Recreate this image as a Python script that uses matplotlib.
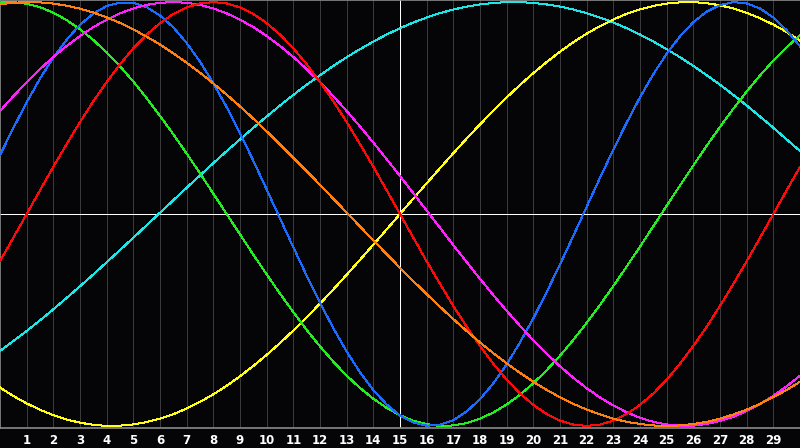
import numpy as np
import matplotlib
matplotlib.use('Agg')
import matplotlib.pyplot as plt

# sample positions (every half step) and tick labels
x = np.arange(0, 30.01, 0.5)
tick_pos = list(range(1, 30))
tick_labels = [str(t) for t in tick_pos]

# curve values
yellow = [-0.819,-0.859,-0.894,-0.924,-0.949,-0.970,-0.985,-0.995,-1.000,-0.999,-0.993,-0.982,-0.966,-0.945,-0.918,-0.887,-0.851,-0.811,-0.766,-0.717,-0.665,-0.609,-0.550,-0.487,-0.423,-0.356,-0.287,-0.216,-0.145,-0.073,0.000,0.073,0.145,0.216,0.287,0.356,0.423,0.487,0.550,0.609,0.665,0.717,0.766,0.811,0.851,0.887,0.918,0.945,0.966,0.982,0.993,0.999,1.000,0.995,0.985,0.970,0.949,0.924,0.894,0.859,0.819]
cyan = [-0.646,-0.600,-0.552,-0.502,-0.450,-0.396,-0.341,-0.285,-0.228,-0.170,-0.112,-0.053,0.006,0.065,0.124,0.182,0.240,0.297,0.352,0.407,0.460,0.512,0.562,0.610,0.655,0.699,0.740,0.778,0.814,0.847,0.877,0.904,0.927,0.948,0.965,0.979,0.989,0.996,1.000,1.000,0.996,0.989,0.979,0.965,0.948,0.927,0.904,0.877,0.847,0.814,0.778,0.740,0.699,0.655,0.610,0.562,0.512,0.460,0.407,0.352,0.297]
green = [0.998,1.000,0.992,0.976,0.950,0.915,0.872,0.821,0.763,0.697,0.625,0.547,0.463,0.376,0.285,0.192,0.096,0.000,-0.096,-0.192,-0.285,-0.376,-0.463,-0.547,-0.625,-0.697,-0.763,-0.821,-0.872,-0.915,-0.950,-0.976,-0.992,-1.000,-0.998,-0.987,-0.966,-0.937,-0.899,-0.853,-0.799,-0.737,-0.669,-0.594,-0.514,-0.429,-0.340,-0.248,-0.154,-0.058,0.039,0.135,0.229,0.322,0.411,0.497,0.578,0.654,0.724,0.787,0.843]
blue = [0.278,0.406,0.527,0.639,0.738,0.823,0.893,0.946,0.982,0.998,0.997,0.976,0.937,0.881,0.807,0.719,0.617,0.504,0.381,0.251,0.116,-0.021,-0.157,-0.291,-0.419,-0.539,-0.649,-0.747,-0.831,-0.899,-0.951,-0.984,-0.999,-0.995,-0.973,-0.932,-0.874,-0.799,-0.710,-0.606,-0.492,-0.368,-0.238,-0.103,0.034,0.171,0.304,0.431,0.551,0.660,0.756,0.839,0.905,0.955,0.986,1.000,0.994,0.970,0.927,0.867,0.791]
magenta = [0.486,0.556,0.622,0.684,0.741,0.793,0.840,0.882,0.917,0.947,0.970,0.987,0.997,1.000,0.997,0.987,0.970,0.947,0.917,0.882,0.840,0.793,0.741,0.684,0.622,0.556,0.486,0.413,0.337,0.259,0.179,0.098,0.016,-0.065,-0.147,-0.227,-0.306,-0.383,-0.457,-0.528,-0.596,-0.659,-0.719,-0.773,-0.822,-0.866,-0.904,-0.936,-0.962,-0.981,-0.993,-0.999,-0.999,-0.991,-0.977,-0.957,-0.930,-0.897,-0.858,-0.813,-0.763]
red = [-0.223,-0.112,0.000,0.112,0.223,0.330,0.434,0.532,0.623,0.707,0.782,0.847,0.901,0.944,0.975,0.994,1.000,0.994,0.975,0.944,0.901,0.847,0.782,0.707,0.623,0.532,0.434,0.330,0.223,0.112,0.000,-0.112,-0.223,-0.330,-0.434,-0.532,-0.623,-0.707,-0.782,-0.847,-0.901,-0.944,-0.975,-0.994,-1.000,-0.994,-0.975,-0.944,-0.901,-0.847,-0.782,-0.707,-0.623,-0.532,-0.434,-0.330,-0.223,-0.112,0.000,0.112,0.223]
orange = [0.990,0.997,1.000,0.999,0.993,0.983,0.969,0.951,0.928,0.902,0.871,0.837,0.800,0.758,0.714,0.667,0.616,0.563,0.508,0.450,0.390,0.329,0.266,0.202,0.138,0.072,0.007,-0.059,-0.125,-0.189,-0.254,-0.317,-0.378,-0.438,-0.496,-0.552,-0.606,-0.657,-0.705,-0.750,-0.792,-0.830,-0.865,-0.896,-0.923,-0.946,-0.966,-0.981,-0.991,-0.998,-1.000,-0.998,-0.991,-0.981,-0.966,-0.946,-0.923,-0.896,-0.865,-0.830,-0.792]

series = [
    (cyan, '#1ee6e6'),
    (yellow, '#ffff1a'),
    (green, '#22ee22'),
    (blue, '#1a6cff'),
    (magenta, '#ff22ff'),
    (red, '#ff0a0a'),
    (orange, '#ff8011'),
]

bg = '#050508'
fig = plt.figure(figsize=(8, 4.48), dpi=100, facecolor=bg)
ax = fig.add_axes([0, 20 / 448, 1, 428 / 448], facecolor=bg)

# vertical grid, white cross at x=15 / y=0
for t in tick_pos:
    if t != 15:
        ax.axvline(t, color='#3a3a3e', lw=0.72, antialiased=False, zorder=1)
ax.axvline(15, color='white', lw=0.72, antialiased=False, zorder=2)
ax.axhline(0, color='white', lw=0.72, antialiased=False, zorder=2)

for vals, col in series:
    ax.plot(x, vals, color=col, lw=0.72, antialiased=False, zorder=3)

ax.set_xlim(0, 30)
ax.set_ylim(-1.01, 1.01)
ax.set_yticks([])
ax.set_xticks(tick_pos)
ax.set_xticklabels(tick_labels, color='white', fontsize=8.5, fontweight='bold')
ax.tick_params(axis='x', length=0, pad=4)

for side in ['left', 'top', 'bottom']:
    ax.spines[side].set_color('#8a8a8a')
    ax.spines[side].set_linewidth(1.2)
ax.spines['right'].set_visible(False)

fig.savefig('out.png', dpi=100, facecolor=bg)
